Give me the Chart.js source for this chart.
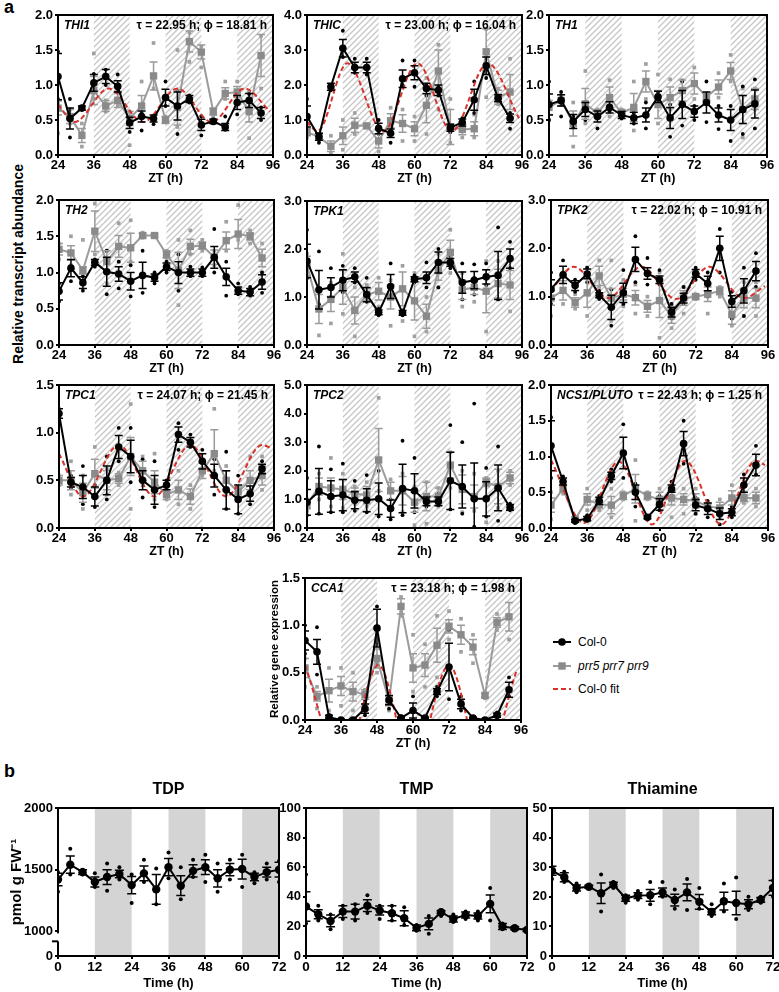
<!DOCTYPE html>
<html><head><meta charset="utf-8">
<script src="https://cdn.jsdelivr.net/npm/chart.js@4.4.1/dist/chart.umd.min.js"></script>
<style>
html,body{margin:0;padding:0;background:#fff}
body{width:779px;height:992px;position:relative;overflow:hidden;font-family:'Liberation Sans',Arial,Helvetica,sans-serif;color:#000}
canvas{position:absolute}
.t{position:absolute;font-weight:bold;white-space:nowrap}
</style></head><body>
<div class="t" style="left:4px;top:-3px;font-size:18px">a</div>
<div class="t" style="left:4px;top:761px;font-size:18px">b</div>
<div class="t" style="left:-132px;top:256px;width:300px;text-align:center;font-size:14px;transform:rotate(-90deg)">Relative transcript abundance</div>
<div id="legend" style="position:absolute;left:550px;top:634px;font-size:12px"></div>
<script>
// ---------- data ----------
const ZT = [24,28,32,36,40,44,48,52,56,60,64,68,72,76,80,84,88,92];
const TIME = [0,4,8,12,16,20,24,28,32,36,40,44,48,52,56,60,64,68,72];
const ZT_TICKS = [24,36,48,60,72,84,96];
const TIME_TICKS = [0,12,24,36,48,60,72];
const Y_TICKS_2 = [0,0.5,1,1.5,2];
const Y_TICKS_15 = [0,0.5,1,1.5];
const Y_TICKS_3 = [0,1,2,3];
const Y_TICKS_4 = [0,1,2,3,4];
const Y_TICKS_5 = [0,1,2,3,4,5];
const TDP_TICKS = [800,1000,1500,2000];
const TDP_TICK_LABELS = ['0','1000','1500','2000'];
const TMP_TICKS = [0,20,40,60,80,100];
const THIAMINE_TICKS = [0,10,20,30,40,50];

// THI1
const thi1Col = [1.12,0.52,0.67,1.03,1.12,0.98,0.46,0.55,0.52,0.82,0.70,0.80,0.43,0.48,0.40,0.75,0.78,0.60];
const thi1ColErr = [0.33,0.15,0.03,0.12,0.10,0.08,0.08,0.08,0.05,0.12,0.20,0.05,0.08,0.03,0.05,0.10,0.10,0.08];
const thi1ColHi = [1.48,0.80,0.69,1.16,1.22,1.15,0.55,0.60,0.56,1.05,0.92,0.85,0.55,0.50,0.55,0.88,0.87,0.68];
const thi1ColLo = [0.80,0.25,0.65,0.95,1.00,0.90,0.33,0.35,0.44,0.70,0.30,0.75,0.28,0.46,0.36,0.58,0.68,0.50];
const thi1Prr = [0.67,0.55,0.28,0.92,0.70,0.78,0.52,0.70,1.13,0.50,0.68,1.62,1.47,0.62,0.88,0.90,0.62,1.42];
const thi1PrrErr = [0.10,0.10,0.10,0.20,0.08,0.10,0.10,0.15,0.20,0.05,0.25,0.15,0.10,0.05,0.08,0.08,0.15,0.30];
const thi1PrrHi = [0.75,0.65,0.45,1.45,0.78,0.95,0.62,1.05,1.60,0.55,1.50,1.75,1.55,0.65,1.05,1.05,0.90,1.70];
const thi1PrrLo = [0.31,0.45,0.12,0.80,0.62,0.70,0.14,0.58,0.95,0.48,0.40,1.33,1.25,0.55,0.80,0.80,0.24,0.95];
const thi1FitT = [24,29.5,41,52.5,64,75.5,86.5,95];
const thi1FitV = [0.72,0.47,0.95,0.47,0.95,0.47,0.95,0.62];

// THIC
const thicCol = [1.10,0.52,1.95,3.05,2.50,2.50,0.76,0.62,2.18,2.35,1.90,1.85,0.78,0.93,1.58,2.55,1.62,1.05];
const thicColErr = [0.30,0.10,0.10,0.25,0.15,0.15,0.15,0.12,0.25,0.20,0.15,0.15,0.10,0.10,0.30,0.25,0.10,0.12];
const thicColHi = [1.60,0.60,2.00,3.55,2.75,2.75,1.00,0.85,2.70,2.70,2.00,1.95,0.85,1.05,2.10,2.90,1.70,1.20];
const thicColLo = [0.90,0.35,1.85,2.80,2.35,2.30,0.60,0.35,2.00,1.95,1.70,1.70,0.65,0.85,1.20,2.20,1.55,0.75];
const thicPrr = [0.65,0.52,0.25,0.55,0.85,0.83,0.40,0.98,0.90,0.75,1.42,2.40,0.80,0.73,0.75,2.95,1.65,1.80];
const thicPrrErr = [0.10,0.10,0.15,0.25,0.20,0.05,0.20,0.20,0.25,0.20,0.50,0.60,0.50,0.15,0.20,0.65,0.20,0.50];
const thicPrrHi = [0.80,0.60,0.55,1.00,1.20,0.88,0.65,1.35,1.30,1.10,2.20,3.15,1.60,1.00,1.15,3.60,1.90,2.75];
const thicPrrLo = [0.50,0.40,0.05,0.15,0.60,0.80,0.10,0.85,0.40,0.40,0.60,1.30,0.35,0.50,0.50,1.65,1.45,1.00];
const thicFitT = [24,27.5,37.5,49.5,61,72.5,84.5,95];
const thicFitV = [0.95,0.68,2.62,0.68,2.62,0.68,2.62,1.05];

// TH1
const th1Col = [0.72,0.78,0.48,0.65,0.55,0.68,0.57,0.53,0.57,0.83,0.53,0.72,0.62,0.75,0.57,0.50,0.65,0.73];
const th1ColErr = [0.15,0.08,0.10,0.10,0.08,0.08,0.05,0.08,0.10,0.08,0.15,0.20,0.08,0.15,0.10,0.15,0.20,0.20];
const th1ColHi = [1.05,0.90,0.55,0.75,0.60,0.78,0.62,0.60,0.75,0.90,0.72,1.05,0.70,1.05,0.70,0.70,0.98,1.08];
const th1ColLo = [0.50,0.55,0.40,0.50,0.38,0.62,0.52,0.45,0.38,0.75,0.26,0.42,0.50,0.47,0.37,0.20,0.30,0.38];
const th1Prr = [0.68,0.78,0.45,0.73,0.60,0.82,0.60,0.68,1.05,0.72,0.82,0.92,1.02,0.83,0.97,1.20,0.65,0.80];
const th1PrrErr = [0.10,0.08,0.18,0.22,0.05,0.15,0.05,0.20,0.15,0.20,0.15,0.15,0.15,0.05,0.10,0.12,0.20,0.15];
const th1PrrHi = [0.78,0.85,0.75,1.20,0.65,1.07,0.65,1.05,1.30,1.15,1.08,1.07,1.25,0.88,1.17,1.43,0.95,0.95];
const th1PrrLo = [0.50,0.72,0.12,0.45,0.55,0.55,0.55,0.35,0.80,0.45,0.65,0.72,0.80,0.80,0.82,1.05,0.25,0.65];

// TH2
const th2Col = [0.74,1.06,0.86,1.14,1.01,0.98,0.88,0.96,0.93,1.08,1.00,1.00,1.00,1.21,0.94,0.75,0.73,0.87];
const th2ColErr = [0.12,0.12,0.08,0.04,0.20,0.10,0.12,0.18,0.05,0.05,0.15,0.05,0.05,0.15,0.12,0.05,0.05,0.10];
const th2ColHi = [0.85,1.28,0.95,1.18,1.30,1.15,1.10,1.30,1.00,1.15,1.25,1.08,1.07,1.60,1.15,0.85,0.80,1.00];
const th2ColLo = [0.60,0.88,0.75,1.08,0.70,0.78,0.67,0.72,0.85,1.00,0.75,0.95,0.95,1.00,0.68,0.70,0.68,0.72];
const th2Prr = [1.32,1.27,1.03,1.57,1.15,1.36,1.34,1.51,1.51,1.25,1.03,1.36,1.37,1.21,1.44,1.53,1.50,1.20];
const th2PrrErr = [0.08,0.10,0.05,0.28,0.15,0.15,0.20,0.03,0.02,0.05,0.25,0.10,0.05,0.10,0.12,0.20,0.05,0.12];
const th2PrrHi = [1.40,1.50,1.45,1.95,1.30,1.68,1.72,1.55,1.53,1.30,1.45,1.58,1.45,1.30,1.70,1.93,1.58,1.40];
const th2PrrLo = [1.18,1.10,1.00,1.25,0.85,1.15,1.15,1.48,1.50,1.20,0.55,1.25,1.30,1.10,1.30,1.45,1.40,1.00];

// TPK1
const tpk1Col = [1.75,1.15,1.20,1.35,1.42,1.05,0.68,1.22,0.67,1.37,1.40,1.72,1.72,1.30,1.35,1.42,1.45,1.80];
const tpk1ColErr = [0.35,0.40,0.20,0.22,0.10,0.15,0.05,0.25,0.05,0.05,0.12,0.22,0.08,0.22,0.18,0.15,0.50,0.20];
const tpk1ColHi = [2.40,1.95,1.60,1.65,1.60,1.40,0.75,1.70,0.72,1.45,1.72,2.00,1.85,1.70,1.68,1.70,2.45,2.15];
const tpk1ColLo = [1.40,0.85,1.00,1.10,1.30,0.90,0.62,1.00,0.62,1.30,1.20,1.20,1.60,0.95,1.05,1.25,0.95,1.60];
const tpk1Prr = [1.65,0.75,0.95,1.20,0.72,1.05,1.12,1.00,1.17,0.92,0.60,1.55,1.93,1.15,1.20,1.12,1.28,1.25];
const tpk1PrrErr = [0.20,0.30,0.25,0.35,0.28,0.12,0.18,0.25,0.35,0.40,0.25,0.20,0.25,0.20,0.15,0.45,0.30,0.30];
const tpk1PrrHi = [1.90,1.10,1.30,1.90,1.20,1.25,1.40,1.35,1.65,1.50,1.00,1.90,2.40,1.50,1.40,1.75,1.75,1.75];
const tpk1PrrLo = [1.40,0.20,0.45,0.65,0.18,0.95,0.80,0.40,0.50,0.18,0.28,1.20,1.50,0.80,0.90,0.28,0.95,0.70];

// TPK2
const tpk2Col = [1.15,1.45,1.23,1.47,1.03,0.78,1.08,1.77,1.48,1.35,0.68,0.97,1.48,1.27,2.00,0.90,1.12,1.53];
const tpk2ColErr = [0.20,0.18,0.10,0.10,0.05,0.25,0.20,0.25,0.12,0.08,0.10,0.10,0.08,0.15,0.25,0.12,0.25,0.20];
const tpk2ColHi = [1.50,1.75,1.35,1.60,1.12,1.15,1.55,2.25,1.80,1.55,0.85,1.20,1.60,1.50,2.40,1.10,1.60,1.90];
const tpk2ColLo = [0.85,1.15,1.10,1.30,0.95,0.40,0.85,1.30,1.25,1.25,0.55,0.85,1.35,1.00,1.50,0.55,0.60,1.20];
const tpk2Prr = [0.97,1.13,0.88,1.08,1.43,0.97,1.05,0.98,0.80,0.92,0.60,0.97,1.00,1.05,1.12,0.63,0.97,0.97];
const tpk2PrrErr = [0.15,0.20,0.10,0.30,0.20,0.20,0.12,0.15,0.12,0.35,0.15,0.15,0.05,0.15,0.08,0.20,0.20,0.20];
const tpk2PrrHi = [1.20,1.50,1.05,1.60,1.75,1.75,1.35,1.25,1.00,1.50,0.85,1.20,1.05,1.35,1.20,0.95,1.30,1.30];
const tpk2PrrLo = [0.60,0.85,0.75,0.60,1.20,0.50,0.80,0.65,0.60,0.15,0.35,0.65,0.95,0.65,1.00,0.40,0.60,0.60];
const tpk2FitT = [24,31.5,43,54,65.5,76.5,88,95];
const tpk2FitV = [1.12,1.62,0.97,1.62,0.95,1.62,0.97,1.22];

// TPC1
const tpc1Col = [1.20,0.48,0.43,0.33,0.50,0.85,0.75,0.50,0.40,0.45,0.98,0.90,0.70,0.55,0.40,0.30,0.36,0.62];
const tpc1ColErr = [0.05,0.05,0.12,0.10,0.15,0.12,0.17,0.10,0.15,0.05,0.08,0.05,0.08,0.12,0.20,0.15,0.08,0.05];
const tpc1ColHi = [1.25,0.55,0.65,0.45,0.75,1.05,1.05,0.72,0.70,0.50,1.10,0.98,0.82,0.72,0.80,0.55,0.50,0.70];
const tpc1ColLo = [1.15,0.42,0.25,0.22,0.30,0.70,0.48,0.32,0.22,0.40,0.82,0.85,0.60,0.35,0.20,0.15,0.25,0.55];
const tpc1Prr = [0.50,0.50,0.37,0.57,0.50,0.52,0.75,0.60,0.48,0.35,0.40,0.33,0.60,0.78,0.50,0.38,0.50,0.55];
const tpc1PrrErr = [0.05,0.10,0.10,0.15,0.10,0.05,0.20,0.10,0.12,0.05,0.10,0.08,0.08,0.25,0.10,0.05,0.10,0.10];
const tpc1PrrHi = [0.55,0.70,0.55,0.85,0.62,0.58,1.30,0.75,0.78,0.40,0.60,0.45,0.72,1.25,0.65,0.42,0.75,0.75];
const tpc1PrrLo = [0.45,0.35,0.20,0.35,0.35,0.45,0.20,0.45,0.30,0.30,0.25,0.20,0.55,0.60,0.35,0.33,0.35,0.40];
const tpc1FitT = [24,32,44,56,68,80,92,95];
const tpc1FitV = [0.78,0.33,0.87,0.33,0.87,0.33,0.87,0.84];

// TPC2
const tpc2Col = [0.90,1.28,1.10,1.15,0.97,0.97,1.02,0.68,1.38,1.30,0.93,0.93,1.65,1.45,1.02,1.02,1.40,0.72];
const tpc2ColErr = [0.45,0.80,0.55,0.55,0.30,0.40,0.55,0.30,0.85,0.60,0.15,0.15,1.00,0.75,1.25,0.60,0.80,0.10];
const tpc2ColHi = [1.75,2.85,2.05,2.25,1.65,1.85,2.00,1.00,3.05,2.45,1.15,1.20,3.60,3.00,4.35,2.10,2.85,0.85];
const tpc2ColLo = [0.45,0.50,0.55,0.55,0.60,0.55,0.40,0.30,0.45,0.55,0.75,0.80,0.65,0.50,0.05,0.40,0.25,0.62];
const tpc2Prr = [0.82,1.45,1.40,1.35,1.20,1.15,2.38,1.30,1.30,0.90,1.10,1.10,2.20,1.35,1.10,1.60,1.45,1.75];
const tpc2PrrErr = [0.15,0.30,0.35,0.35,0.20,0.30,1.10,0.30,0.50,0.35,0.50,0.30,0.45,0.50,0.40,0.15,0.60,0.20];
const tpc2PrrHi = [1.00,1.90,2.45,1.90,1.45,1.60,4.55,1.70,1.90,1.45,1.60,1.40,2.65,2.00,1.90,1.75,2.00,2.00];
const tpc2PrrLo = [0.60,1.00,0.75,0.70,0.85,0.75,1.30,0.70,0.55,0.10,0.15,0.75,1.40,0.55,0.60,0.20,0.70,1.50];

// NCS1/PLUTO
const ncs1Col = [1.15,0.65,0.10,0.13,0.38,0.73,1.05,0.50,0.15,0.33,0.55,1.18,0.32,0.27,0.20,0.22,0.60,0.88];
const ncs1ColErr = [0.35,0.05,0.02,0.03,0.05,0.05,0.22,0.10,0.02,0.08,0.05,0.17,0.08,0.08,0.08,0.05,0.10,0.15];
const ncs1ColHi = [1.55,0.72,0.12,0.18,0.45,0.82,1.45,0.62,0.17,0.45,0.65,1.50,0.42,0.38,0.28,0.30,0.75,1.15];
const ncs1ColLo = [0.70,0.60,0.07,0.10,0.30,0.65,0.70,0.30,0.12,0.25,0.45,0.90,0.20,0.15,0.05,0.15,0.45,0.75];
const ncs1Prr = [0.32,0.55,0.12,0.40,0.33,0.32,0.45,0.55,0.45,0.40,0.42,0.40,0.38,0.30,0.28,0.42,0.42,0.42];
const ncs1PrrErr = [0.10,0.05,0.03,0.08,0.05,0.12,0.05,0.20,0.05,0.10,0.10,0.08,0.10,0.05,0.08,0.10,0.05,0.08];
const ncs1PrrHi = [0.50,0.60,0.15,0.55,0.42,0.55,0.50,0.95,0.50,0.55,0.60,0.55,0.55,0.35,0.40,0.60,0.50,0.55];
const ncs1PrrLo = [0.12,0.48,0.08,0.25,0.25,0.15,0.40,0.10,0.40,0.25,0.15,0.20,0.20,0.25,0.15,0.30,0.35,0.30];
const ncs1FitT = [24,35,46.5,57.5,68.5,80.5,92,95];
const ncs1FitV = [0.95,0.07,0.93,0.05,0.94,0.05,0.94,0.88];

// CCA1
const cca1Col = [0.84,0.72,0.03,0.00,0.00,0.12,0.97,0.21,0.02,0.10,0.02,0.30,0.56,0.17,0.02,0.00,0.05,0.32];
const cca1ColErr = [0.10,0.13,0.02,0.01,0.01,0.05,0.20,0.05,0.01,0.08,0.01,0.03,0.25,0.05,0.01,0.01,0.02,0.08];
const cca1ColHi = [1.00,0.98,0.05,0.01,0.01,0.20,1.20,0.28,0.04,0.25,0.03,0.35,0.95,0.25,0.03,0.01,0.08,0.45];
const cca1ColLo = [0.70,0.48,0.01,0.00,0.00,0.05,0.60,0.12,0.01,0.00,0.01,0.25,0.22,0.10,0.00,0.00,0.03,0.25];
const cca1Prr = [0.55,0.25,0.31,0.36,0.30,0.27,0.65,0.20,1.20,0.55,0.58,0.79,0.99,0.90,0.77,0.26,1.03,1.09];
const cca1PrrErr = [0.10,0.05,0.12,0.10,0.10,0.05,0.10,0.05,0.08,0.15,0.12,0.18,0.07,0.10,0.08,0.02,0.05,0.15];
const cca1PrrHi = [0.65,0.35,0.55,0.55,0.50,0.32,0.80,0.25,1.30,0.90,0.80,1.10,1.15,1.07,0.90,0.28,1.12,1.38];
const cca1PrrLo = [0.35,0.12,0.10,0.15,0.10,0.20,0.50,0.10,1.10,0.30,0.35,0.45,0.85,0.72,0.60,0.23,0.95,0.85];
const cca1FitT = [24,36.5,48.5,60,72,83.5,94.5];
const cca1FitV = [0.58,-0.50,0.58,-0.50,0.58,-0.50,0.52];

// part b
const tdpVals = [1420,1540,1480,1400,1440,1465,1375,1470,1340,1520,1370,1490,1520,1430,1500,1505,1440,1480,1500];
const tdpErr = [50,70,20,40,60,30,70,60,120,70,80,50,60,70,50,80,30,40,60];
const tdpHi = [1480,1670,1500,1470,1550,1520,1460,1580,1510,1640,1520,1580,1620,1550,1580,1620,1480,1550,1570];
const tdpLo = [1320,1460,1460,1360,1330,1420,1230,1400,1220,1430,1260,1440,1400,1320,1420,1360,1390,1420,1400];
const tmpVals = [33.4,28.2,23.7,30.0,30.0,34.0,30.7,28.9,25.5,19.0,21.7,29.6,25.0,27.7,27.0,35.2,19.9,18.7,17.6];
const tmpErr = [10,3,4,4,5,4,3,5,5,2,4,1,2,2,2,6,2,1,1];
const tmpHi = [55,34,28,34,35,41,34,34,33,21,27,31,28,30,30,46,22,19.5,19];
const tmpLo = [22,24,18,25,24,29,25,24,21,17,15,27,23,25,24,24,18,18,16];
const thiamineVals = [28.8,26.6,23.0,23.4,21.2,24.1,19.5,20.4,20.5,21.5,18.9,21.5,18.3,14.9,18.5,17.9,17.5,19.0,23.0];
const thiamineErr = [1.5,1.5,1.0,0.5,3.5,0.8,1.0,1.0,2.0,1.5,2.0,2.8,2.5,1.0,3.0,4.0,1.5,0.8,2.5];
const thiamineHi = [30,28.5,24.5,24,27.5,25,20.5,22,25,25,22.5,26,23,17.5,24.5,26.5,20,20,25.5];
const thiamineLo = [26,25,21.5,23,15,23,18,19,17.5,20,16,15.5,16,13.5,15,12.5,15.5,18,20];

const DARK_BANDS_A = [[36,48],[60,72],[84,96]];
const DARK_BANDS_B = [[12,24],[36,48],[60,72]];

// ---------- styling ----------
const FONT = "'Liberation Sans', Arial, Helvetica, sans-serif";
const GRAY = '#8a8a8a', GRAYLINE = '#9b9b9b', GRAYDOT = '#a0a0a0', RED = '#d8332b';

const hatchTile = document.createElement('canvas');
hatchTile.width = 6; hatchTile.height = 6;
(function(){ const g = hatchTile.getContext('2d'); g.strokeStyle = '#c6c6c6'; g.lineWidth = 1.3;
  g.beginPath(); g.moveTo(-1,7); g.lineTo(7,-1); g.moveTo(-4,4); g.lineTo(4,-4); g.moveTo(2,10); g.lineTo(10,2); g.stroke(); })();

function pts(xs, ys){ return xs.map((x,i)=>({x:x, y:ys[i]})); }

const deco = {
  id: 'deco',
  beforeDatasetsDraw(chart, args, o){
    const {ctx, chartArea:a} = chart, xs = chart.scales.x;
    ctx.save();
    ctx.beginPath(); ctx.rect(a.left, a.top, a.right-a.left, a.bottom-a.top); ctx.clip();
    (o.bands||[]).forEach(b => {
      const x0 = xs.getPixelForValue(b[0]), x1 = xs.getPixelForValue(b[1]);
      ctx.fillStyle = o.hatch ? ctx.createPattern(hatchTile,'repeat') : '#d4d4d4';
      ctx.fillRect(x0, a.top, x1-x0, a.bottom-a.top);
    });
    ctx.restore();
  },
  beforeDatasetDraw(chart, args, o){
    const ds = chart.data.datasets[args.index];
    if (!ds.errors) return;
    const {ctx, chartArea:a} = chart, xs = chart.scales.x, ys = chart.scales.y;
    ctx.save();
    ctx.beginPath(); ctx.rect(a.left, a.top-2, a.right-a.left, a.bottom-a.top+2); ctx.clip();
    ctx.strokeStyle = ds.errColor; ctx.lineWidth = 1.5;
    const cw = o.cap || 4;
    ds.data.forEach((p,i) => {
      const e = ds.errors[i]; if (!e) return;
      const px = xs.getPixelForValue(p.x), y1 = ys.getPixelForValue(p.y+e), y2 = ys.getPixelForValue(p.y-e);
      ctx.beginPath(); ctx.moveTo(px,y1); ctx.lineTo(px,y2);
      ctx.moveTo(px-cw,y1); ctx.lineTo(px+cw,y1); ctx.moveTo(px-cw,y2); ctx.lineTo(px+cw,y2); ctx.stroke();
    });
    ctx.restore();
  },
  afterDraw(chart, args, o){
    const {ctx, chartArea:a} = chart;
    ctx.save();
    ctx.strokeStyle = '#000'; ctx.lineWidth = 2;
    ctx.strokeRect(a.left, a.top, a.right-a.left, a.bottom-a.top);
    ctx.fillStyle = '#000'; ctx.textBaseline = 'middle';
    if (o.gene){ ctx.font = "italic bold 12px "+FONT; ctx.textAlign='left'; ctx.fillText(o.gene, a.left+6, a.top+11); }
    if (o.fitText){ ctx.font = "bold 12px "+FONT; ctx.textAlign='right'; ctx.fillText(o.fitText, a.right-6, a.top+11); }
    if (o.title){ ctx.font = "bold 16px "+FONT; ctx.textAlign='center'; ctx.fillText(o.title, (a.left+a.right)/2, a.top-18); }
    if (o.breakAt !== undefined){
      const yb = chart.scales.y.getPixelForValue(o.breakAt);
      ctx.fillStyle = '#fff'; ctx.fillRect(a.left-3, yb+2, 6, 8);
      ctx.strokeStyle = '#000'; ctx.lineWidth = 2;
      ctx.beginPath(); ctx.moveTo(a.left-6, yb+10); ctx.lineTo(a.left, yb+10); ctx.stroke();
    }
    ctx.restore();
  }
};

function repSet(xs, hi, lo, color, style, r){
  return {data: pts(xs, hi).concat(pts(xs, lo)), showLine:false, borderWidth:0,
    backgroundColor: color, borderColor: color, pointStyle: style, pointRadius: r, pointBorderWidth:0};
}

function seriesA(col, colErr, colHi, colLo, prr, prrErr, prrHi, prrLo, fitT, fitV){
  const ds = [{
    data: pts(ZT, col), errors: colErr, errColor:'#000',
    borderColor:'#000', backgroundColor:'#000', borderWidth:2,
    pointStyle:'circle', pointRadius:3.8, pointBorderWidth:0, tension:0
  }];
  if (fitT) ds.push({ data: pts(fitT, fitV), borderColor: RED, borderDash:[5,3], borderWidth:2,
    pointRadius:0, cubicInterpolationMode:'monotone', fill:false });
  ds.push({
    data: pts(ZT, prr), errors: prrErr, errColor: GRAYLINE,
    borderColor: GRAYLINE, backgroundColor: GRAY, borderWidth:2,
    pointStyle:'rect', pointRadius:5.2, pointBorderWidth:0, tension:0
  });
  ds.push(repSet(ZT, colHi, colLo, '#000', 'circle', 1.9));
  ds.push(repSet(ZT, prrHi, prrLo, GRAYDOT, 'rect', 2.6));
  return ds;
}

function makePanel(box, L, datasets, sc, deco_opts){
  const cv = document.createElement('canvas');
  const W = box.r - box.l + L.yw + L.pr, H = box.b - box.t + L.pt + L.xh;
  cv.width = W; cv.height = H;
  cv.style.left = (box.l - L.yw)+'px'; cv.style.top = (box.t - L.pt)+'px';
  cv.style.width = W+'px'; cv.style.height = H+'px';
  document.body.appendChild(cv);
  const tickFontX = {family:FONT, size:L.fx, weight:'bold'};
  const tickFontY = {family:FONT, size:L.fy, weight:'bold'};
  new Chart(cv, {
    type:'line',
    data:{datasets: datasets},
    plugins:[deco],
    options:{
      responsive:false, animation:false, events:[],
      layout:{padding:{left:0, top:L.pt, right:L.pr, bottom:0}},
      plugins:{legend:{display:false}, tooltip:{enabled:false}, deco: deco_opts},
      scales:{
        x:{type:'linear', min:sc.xmin, max:sc.xmax,
          afterBuildTicks: s => { s.ticks = sc.xticks.map(v=>({value:v})); },
          ticks:{color:'#000', font:tickFontX, padding:0, maxRotation:0, autoSkip:false},
          grid:{display:true, drawOnChartArea:false, drawTicks:true, tickLength:3, color:'#000', lineWidth:2},
          border:{display:true, color:'#000', width:2},
          title:{display:true, text:sc.xtitle, color:'#000', font:{family:FONT, size:L.ft, weight:'bold'}, padding:{top:0, bottom:L.xtp}},
          afterFit: s => { s.height = L.xh; }
        },
        y:{type:'linear', min:sc.ymin, max:sc.ymax,
          afterBuildTicks: s => { s.ticks = sc.yticks.map(v=>({value:v})); },
          ticks:{color:'#000', font:tickFontY, padding:2, autoSkip:false,
            callback: (v) => sc.ylabels ? sc.ylabels[sc.yticks.indexOf(v)] : (sc.dec !== undefined ? Number(v).toFixed(sc.dec) : String(v))},
          grid:{display:true, drawOnChartArea:false, drawTicks:true, tickLength:3, color:'#000', lineWidth:2},
          border:{display:true, color:'#000', width:2},
          title: sc.ytitle ? {display:true, text:sc.ytitle, color:'#000', font:{family:FONT, size:sc.ytfs, weight:'bold'}, padding:{top:sc.ytp, bottom:0}} : {display:false},
          afterFit: s => { s.width = L.yw; }
        }
      }
    }
  });
}

// ---------- layout ----------
const LA = {yw:36, pr:14, pt:10, xh:32, fx:13, fy:13, ft:12.5, xtp:0.5};
const LCCA = {yw:52, pr:14, pt:10, xh:32, fx:13, fy:13, ft:12.5, xtp:0.5};
const LB = {yw:34, pr:14, pt:30, xh:36, fx:13.5, fy:13, ft:13, xtp:1};
const LTDP = {yw:58, pr:14, pt:30, xh:36, fx:13.5, fy:13, ft:13, xtp:1};

function scA(ymax, yticks){ return {xmin:24, xmax:96, xticks:ZT_TICKS, xtitle:'ZT (h)', ymin:0, ymax:ymax, yticks:yticks, dec:1}; }
const decoA = (gene, fitText) => ({bands:DARK_BANDS_A, hatch:true, gene:gene, fitText:fitText, cap:4});

makePanel({l:58,t:15,r:273,b:155}, LA, seriesA(thi1Col,thi1ColErr,thi1ColHi,thi1ColLo,thi1Prr,thi1PrrErr,thi1PrrHi,thi1PrrLo,thi1FitT,thi1FitV), scA(2,Y_TICKS_2), decoA('THI1','\u03C4 = 22.95 h; \u03D5 = 18.81 h'));
makePanel({l:307,t:15,r:522,b:155}, LA, seriesA(thicCol,thicColErr,thicColHi,thicColLo,thicPrr,thicPrrErr,thicPrrHi,thicPrrLo,thicFitT,thicFitV), scA(4,Y_TICKS_4), decoA('THIC','\u03C4 = 23.00 h; \u03D5 = 16.04 h'));
makePanel({l:549,t:15,r:767,b:155}, LA, seriesA(th1Col,th1ColErr,th1ColHi,th1ColLo,th1Prr,th1PrrErr,th1PrrHi,th1PrrLo), scA(2,Y_TICKS_2), decoA('TH1'));

makePanel({l:59,t:200,r:274,b:345}, LA, seriesA(th2Col,th2ColErr,th2ColHi,th2ColLo,th2Prr,th2PrrErr,th2PrrHi,th2PrrLo), scA(2,Y_TICKS_2), decoA('TH2'));
makePanel({l:307,t:201,r:522,b:345}, LA, seriesA(tpk1Col,tpk1ColErr,tpk1ColHi,tpk1ColLo,tpk1Prr,tpk1PrrErr,tpk1PrrHi,tpk1PrrLo), scA(3,Y_TICKS_3), decoA('TPK1'));
makePanel({l:551,t:200,r:768,b:345}, LA, seriesA(tpk2Col,tpk2ColErr,tpk2ColHi,tpk2ColLo,tpk2Prr,tpk2PrrErr,tpk2PrrHi,tpk2PrrLo,tpk2FitT,tpk2FitV), scA(3,Y_TICKS_3), decoA('TPK2','\u03C4 = 22.02 h; \u03D5 = 10.91 h'));

makePanel({l:59,t:385,r:274,b:528}, LA, seriesA(tpc1Col,tpc1ColErr,tpc1ColHi,tpc1ColLo,tpc1Prr,tpc1PrrErr,tpc1PrrHi,tpc1PrrLo,tpc1FitT,tpc1FitV), scA(1.5,Y_TICKS_15), decoA('TPC1','\u03C4 = 24.07 h; \u03D5 = 21.45 h'));
makePanel({l:307,t:385,r:522,b:528}, LA, seriesA(tpc2Col,tpc2ColErr,tpc2ColHi,tpc2ColLo,tpc2Prr,tpc2PrrErr,tpc2PrrHi,tpc2PrrLo), scA(5,Y_TICKS_5), decoA('TPC2'));
makePanel({l:551,t:385,r:768,b:528}, LA, seriesA(ncs1Col,ncs1ColErr,ncs1ColHi,ncs1ColLo,ncs1Prr,ncs1PrrErr,ncs1PrrHi,ncs1PrrLo,ncs1FitT,ncs1FitV), scA(2,Y_TICKS_2), decoA('NCS1/PLUTO','\u03C4 = 22.43 h; \u03D5 = 1.25 h'));

const scCCA = Object.assign(scA(1.5,Y_TICKS_15), {ytitle:'Relative gene expression', ytfs:11.5, ytp:15});
makePanel({l:305,t:578,r:521,b:720}, LCCA, seriesA(cca1Col,cca1ColErr,cca1ColHi,cca1ColLo,cca1Prr,cca1PrrErr,cca1PrrHi,cca1PrrLo,cca1FitT,cca1FitV), scCCA, decoA('CCA1','\u03C4 = 23.18 h; \u03D5 = 1.98 h'));

function seriesB(vals, errs, hi, lo){
  return [{data: pts(TIME, vals), errors: errs, errColor:'#000', borderColor:'#000', backgroundColor:'#000',
    borderWidth:2, pointStyle:'circle', pointRadius:4.2, pointBorderWidth:0, tension:0},
    repSet(TIME, hi, lo, '#000', 'circle', 2)];
}
const decoB = (title, extra) => Object.assign({bands:DARK_BANDS_B, hatch:false, title:title, cap:4.5}, extra||{});
makePanel({l:58,t:808,r:279,b:956}, LTDP, seriesB(tdpVals,tdpErr,tdpHi,tdpLo),
  {xmin:0,xmax:72,xticks:TIME_TICKS,xtitle:'Time (h)',ymin:800,ymax:2000,yticks:TDP_TICKS,ylabels:TDP_TICK_LABELS,
   ytitle:'pmol g FW\u207B\u00B9', ytfs:15, ytp:8}, decoB('TDP',{breakAt:1000}));
makePanel({l:306,t:808,r:527,b:956}, LB, seriesB(tmpVals,tmpErr,tmpHi,tmpLo),
  {xmin:0,xmax:72,xticks:TIME_TICKS,xtitle:'Time (h)',ymin:0,ymax:100,yticks:TMP_TICKS}, decoB('TMP'));
makePanel({l:552,t:808,r:773,b:956}, LB, seriesB(thiamineVals,thiamineErr,thiamineHi,thiamineLo),
  {xmin:0,xmax:72,xticks:TIME_TICKS,xtitle:'Time (h)',ymin:0,ymax:50,yticks:THIAMINE_TICKS}, decoB('Thiamine'));

// ---------- legend ----------
const LEGEND_ITEMS = [
  {text:'Col-0', italic:false, kind:'circle'},
  {text:'prr5 prr7 prr9', italic:true, kind:'square'},
  {text:'Col-0 fit', italic:false, kind:'dash'}
];
const leg = document.getElementById('legend');
LEGEND_ITEMS.forEach((it,i) => {
  const row = document.createElement('div');
  row.style.cssText = 'position:absolute;left:0;top:'+(i*23.5)+'px;height:16px;width:140px';
  let mk = '';
  if (it.kind==='circle') mk = '<line x1="3" y1="8" x2="21" y2="8" stroke="#000" stroke-width="2"/><circle cx="12" cy="8" r="3.8" fill="#000"/>';
  if (it.kind==='square') mk = '<line x1="3" y1="8" x2="21" y2="8" stroke="'+GRAYLINE+'" stroke-width="2"/><rect x="8.3" y="4.3" width="7.4" height="7.4" fill="'+GRAY+'"/>';
  if (it.kind==='dash') mk = '<line x1="3" y1="8" x2="21" y2="8" stroke="'+RED+'" stroke-width="2" stroke-dasharray="5,3"/>';
  row.innerHTML = '<svg width="24" height="16" style="position:absolute;left:0;top:0">'+mk+'</svg>'+
    '<span style="position:absolute;left:28px;top:0;line-height:16px;'+(it.italic?'font-style:italic;':'')+'">'+it.text+'</span>';
  leg.appendChild(row);
});
</script>
</body></html>
